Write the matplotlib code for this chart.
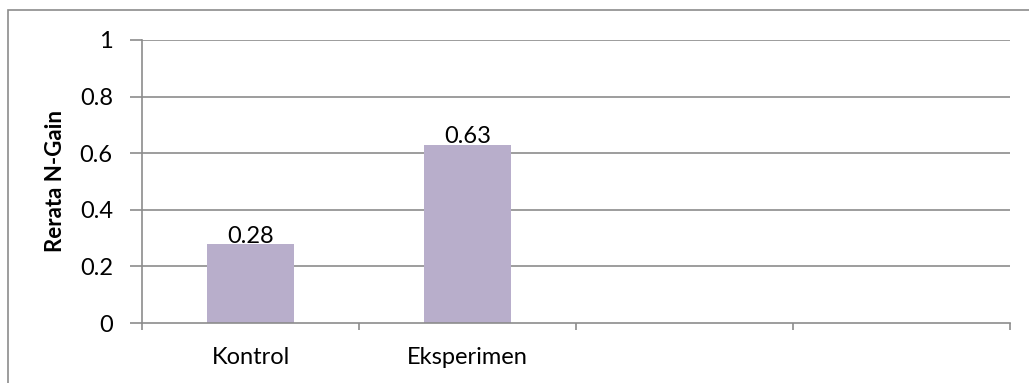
import matplotlib.pyplot as plt
from matplotlib.patches import Rectangle

# Average N-Gain per group (two empty category slots follow)
groups = ['Kontrol', 'Eksperimen', '', '']
ngain = [0.28, 0.63, None, None]
yticks = [0, 0.2, 0.4, 0.6, 0.8, 1]

plt.rcParams['font.family'] = ['Lato', 'DejaVu Sans']

fig = plt.figure(figsize=(10.29, 3.83), dpi=100)
ax = fig.add_axes([142 / 1029, 1 - 323 / 383, (1010 - 142) / 1029, (323 - 40) / 383])

# outer chart frame (only top and left edges fall inside the image)
fig.patches.append(Rectangle((8 / 1029, -0.1), 1.2, 1 - 10 / 383 + 0.1,
                             transform=fig.transFigure, fill=False,
                             edgecolor='#8c8c8c', linewidth=1.2))

grid_c = '#8c8c8c'
for t in yticks[1:]:
    ax.axhline(t, color=grid_c, linewidth=1.2, zorder=1)

xs = [i + 0.5 for i in range(len(groups))]
for x, v in zip(xs, ngain):
    if v is None:
        continue
    ax.bar(x, v, width=0.4, color='#b8aecb', zorder=2)
    ax.annotate(f'{v:.2f}', (x, v), xytext=(0, -2), textcoords='offset points',
                ha='center', va='bottom', fontsize=17)

ax.set_xlim(0, len(groups))
ax.set_ylim(0, 1)
ax.set_yticks(yticks)
ax.set_yticklabels(['0', '0.2', '0.4', '0.6', '0.8', '1'], fontsize=17)

# category ticks sit on the slot boundaries, labels at slot centres
ax.set_xticks(range(len(groups) + 1))
ax.set_xticklabels([])
ax.set_xticks(xs, minor=True)
ax.set_xticklabels(groups, minor=True, fontsize=17)
ax.tick_params(axis='x', which='minor', length=0, pad=17)
ax.tick_params(axis='x', which='major', length=5, color=grid_c, width=1.2)
ax.tick_params(axis='y', length=9, color=grid_c, width=1.2, pad=12)

for s in ['top', 'right']:
    ax.spines[s].set_visible(False)
ax.spines['left'].set_color(grid_c)
ax.spines['bottom'].set_color(grid_c)
ax.spines['left'].set_linewidth(1.2)
ax.spines['bottom'].set_linewidth(1.2)

ax.set_ylabel('Rerata N-Gain', fontsize=16, fontweight='bold', labelpad=10)

fig.savefig('out.png', dpi=100)
